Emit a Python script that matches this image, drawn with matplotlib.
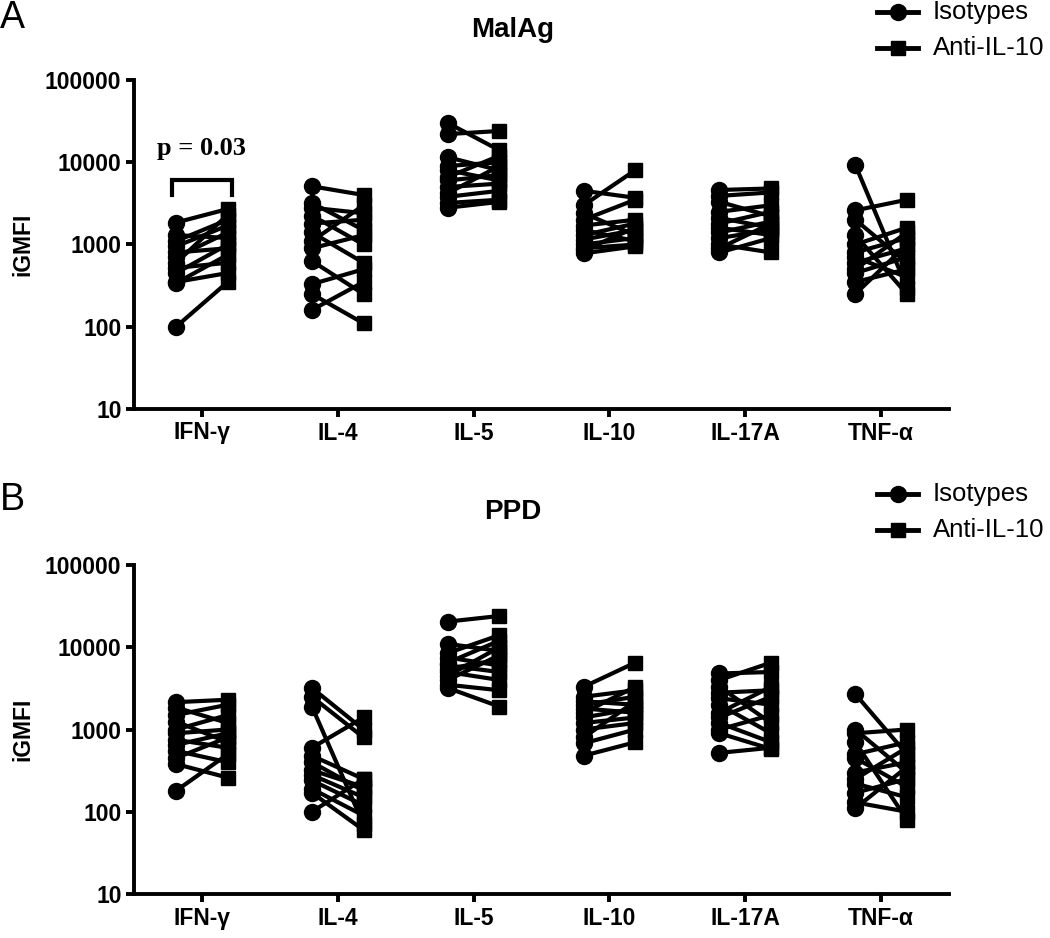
import numpy as np
import matplotlib
matplotlib.use('Agg')
import matplotlib.pyplot as plt
from matplotlib.lines import Line2D

plt.rcParams['font.family'] = ['Liberation Sans', 'DejaVu Sans']

cytokines = ['IFN-γ', 'IL-4', 'IL-5', 'IL-10', 'IL-17A', 'TNF-α']

# MalAg stimulation, isotype vs anti-IL-10 (paired donors)
malag_iso = [
    [1850, 1300, 1100, 950, 800, 700, 600, 520, 450, 350, 340, 100],
    [5100, 3200, 2800, 2250, 1800, 1400, 1100, 900, 630, 330, 250, 160],
    [30000, 22000, 11500, 9000, 8000, 6600, 6000, 5000, 4200, 3800, 3200, 2800],
    [4500, 3000, 2400, 2000, 1700, 1500, 1300, 1150, 1000, 900, 850, 780],
    [4600, 3900, 3300, 2500, 2100, 1800, 1600, 1400, 1200, 1000, 900, 800],
    [9300, 2600, 2000, 1300, 1000, 800, 700, 600, 500, 450, 350, 250],
]
malag_anti = [
    [2700, 1200, 2000, 1700, 900, 1400, 2300, 600, 1000, 450, 750, 350],
    [4000, 1500, 2400, 1000, 2000, 600, 3000, 1300, 250, 500, 110, 350],
    [14000, 24000, 8000, 10000, 6000, 12000, 7000, 5500, 9000, 4500, 3500, 3300],
    [3700, 8000, 1300, 3500, 2000, 1100, 1800, 1500, 1200, 1000, 1600, 950],
    [4800, 4300, 2200, 3000, 1600, 2500, 1300, 1900, 1500, 800, 1800, 1200],
    [300, 3500, 600, 250, 1600, 1200, 400, 900, 1400, 700, 500, 1000],
]

# PPD stimulation
ppd_iso = [
    [2150, 1850, 1500, 1250, 1000, 900, 750, 650, 550, 450, 380, 180],
    [3200, 2500, 1900, 600, 480, 400, 320, 280, 240, 190, 170, 100],
    [20500, 11000, 8500, 7500, 6500, 6000, 5500, 5000, 4500, 4000, 3500, 3200],
    [3300, 2500, 2200, 2000, 1800, 1600, 1400, 1200, 1000, 800, 680, 480],
    [4800, 4000, 3300, 2800, 2400, 2000, 1600, 1400, 1200, 1000, 900, 520],
    [2700, 1000, 900, 700, 500, 450, 300, 250, 220, 170, 130, 110],
]
ppd_anti = [
    [2300, 1200, 2000, 700, 1500, 1000, 600, 900, 400, 800, 260, 500],
    [1000, 800, 70, 1400, 250, 180, 200, 150, 120, 90, 60, 250],
    [24000, 9000, 14000, 6000, 12000, 5000, 7000, 4000, 10000, 8000, 3000, 1900],
    [6500, 3000, 2000, 2500, 1600, 3300, 1800, 1400, 1200, 2200, 1000, 700],
    [5000, 6500, 1200, 3000, 2000, 900, 3300, 2500, 700, 1500, 580, 600],
    [500, 300, 1000, 80, 700, 200, 400, 600, 150, 250, 100, 350],
]

yticks = [10, 100, 1000, 10000, 100000]
ytick_labels = ['10', '100', '1000', '10000', '100000']

W, H = 1050, 938
fig = plt.figure(figsize=(W / 100, H / 100), dpi=100)


def draw_panel(ax, iso, anti):
    for i in range(len(cytokines)):
        for a, b in zip(iso[i], anti[i]):
            ax.plot([i - 0.19, i + 0.19], [a, b], color='black', lw=3,
                    solid_capstyle='butt', zorder=2)
        ax.plot([i - 0.19] * len(iso[i]), iso[i], 'o', color='black',
                ms=11.5, zorder=3)
        ax.plot([i + 0.19] * len(anti[i]), anti[i], 's', color='black',
                ms=9.5, zorder=3)
    ax.set_yscale('log')
    ax.set_ylim(10, 100000)
    ax.set_xlim(-0.5, 5.5)
    ax.set_yticks(yticks)
    ax.set_yticklabels(ytick_labels)
    ax.yaxis.set_minor_locator(matplotlib.ticker.NullLocator())
    ax.set_xticks(range(len(cytokines)))
    ax.set_xticklabels(cytokines)
    for s in ['top', 'right']:
        ax.spines[s].set_visible(False)
    for s in ['left', 'bottom']:
        ax.spines[s].set_linewidth(2.8)
    ax.tick_params(width=2.8, length=6, labelsize=16.5, pad=3)
    for lab in ax.get_xticklabels() + ax.get_yticklabels():
        lab.set_fontweight('bold')
    ax.set_ylabel('iGMFI', fontsize=16.5, fontweight='bold', labelpad=8)


def legend(y_top):
    for k, m, ms in [(0, 'o', 11.5), (1, 's', 9.5)]:
        y = 1 - (y_top + k * 36) / H
        fig.add_artist(Line2D([877 / W, 918 / W], [y, y], color='black', lw=3.5,
                              marker=None))
        fig.add_artist(Line2D([897.5 / W], [y], color='black', marker=m, ms=ms,
                              ls='none'))
        fig.text(933 / W, y, ['Isotypes', 'Anti-IL-10'][k], fontsize=18.5,
                 va='center', ha='left')


axA = fig.add_axes([134 / W, 1 - 409 / H, 815 / W, 329 / H])
draw_panel(axA, malag_iso, malag_anti)
axB = fig.add_axes([134 / W, 1 - 894 / H, 815 / W, 329 / H])
draw_panel(axB, ppd_iso, ppd_anti)

# p value bracket on IFN-g
axA.plot([-0.22, -0.22, 0.22, 0.22], [4000, 6100, 6100, 4000], color='black',
         lw=3, solid_joinstyle='miter')
axA.text(0, 14500, 'p = 0.03', family=['Liberation Serif', 'DejaVu Serif'],
         fontweight='bold', fontsize=19, ha='center', va='center')

fig.text(0.0, 1 - 18 / H, 'A', fontsize=27, va='center', ha='left')
fig.text(0.0, 1 - 500 / H, 'B', fontsize=27, va='center', ha='left')
fig.text(513 / W, 1 - 30 / H, 'MalAg', fontsize=20, fontweight='bold',
         ha='center', va='center')
fig.text(513 / W, 1 - 512 / H, 'PPD', fontsize=20, fontweight='bold',
         ha='center', va='center')
legend(12)
legend(494)

fig.savefig('out.png', dpi=100)
